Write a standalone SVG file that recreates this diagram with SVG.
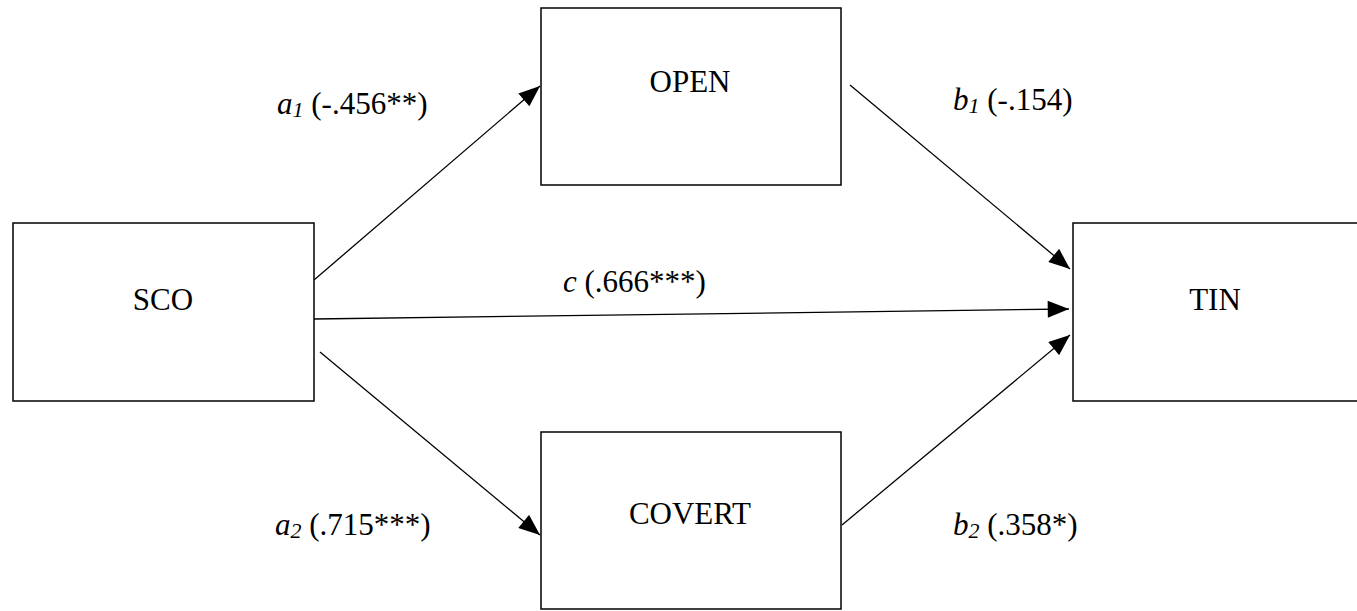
<svg xmlns="http://www.w3.org/2000/svg" width="1357" height="611" viewBox="0 0 1357 611">
<style>
.box{fill:#fff;stroke:#000;stroke-width:1.5}
.t{font-family:"Liberation Serif",serif;font-size:31px;fill:#000}
.c{text-anchor:middle}
.i{font-style:italic}
.s{font-size:22px;font-style:italic}
.ln{stroke:#000;stroke-width:1.3;fill:none;marker-end:url(#ah)}
</style>
<defs>
<marker id="ah" viewBox="0 0 10 8" refX="10" refY="4" markerWidth="22" markerHeight="17" markerUnits="userSpaceOnUse" orient="auto">
<path d="M0,0 L10,4 L0,8 z" fill="#000"/>
</marker>
</defs>
<rect width="1357" height="611" fill="#fff"/>
<g id="connectors">
<line class="ln" x1="314" y1="280" x2="540" y2="86"/>
<line class="ln" x1="320" y1="352" x2="540" y2="535"/>
<line class="ln" x1="850" y1="85" x2="1070" y2="269"/>
<line class="ln" x1="314" y1="319" x2="1069" y2="309"/>
<line class="ln" x1="842" y1="525" x2="1070" y2="335"/>
</g>
<g id="SCO"><rect class="box" x="13" y="223" width="301" height="178"/><text class="t c" x="163" y="310">SCO</text></g>
<g id="OPEN"><rect class="box" x="541" y="8" width="300" height="177"/><text class="t c" x="690" y="92">OPEN</text></g>
<g id="COVERT"><rect class="box" x="541" y="432" width="300" height="177"/><text class="t c" x="690" y="524">COVERT</text></g>
<g id="TIN"><rect class="box" x="1073" y="223" width="300" height="178"/><text class="t c" x="1215" y="310">TIN</text></g>
<g id="labels">
<text class="t" x="277" y="114"><tspan class="i">a</tspan><tspan class="s" dy="3">1</tspan><tspan dy="-3"> (-.456**)</tspan></text>
<text class="t" x="275" y="535"><tspan class="i">a</tspan><tspan class="s" dy="3">2</tspan><tspan dy="-3"> (.715***)</tspan></text>
<text class="t" x="953" y="110"><tspan class="i">b</tspan><tspan class="s" dy="3">1</tspan><tspan dy="-3"> (-.154)</tspan></text>
<text class="t" x="953" y="535"><tspan class="i">b</tspan><tspan class="s" dy="3">2</tspan><tspan dy="-3"> (.358*)</tspan></text>
<text class="t" x="563" y="292"><tspan class="i">c</tspan> (.666***)</text>
</g>
</svg>
